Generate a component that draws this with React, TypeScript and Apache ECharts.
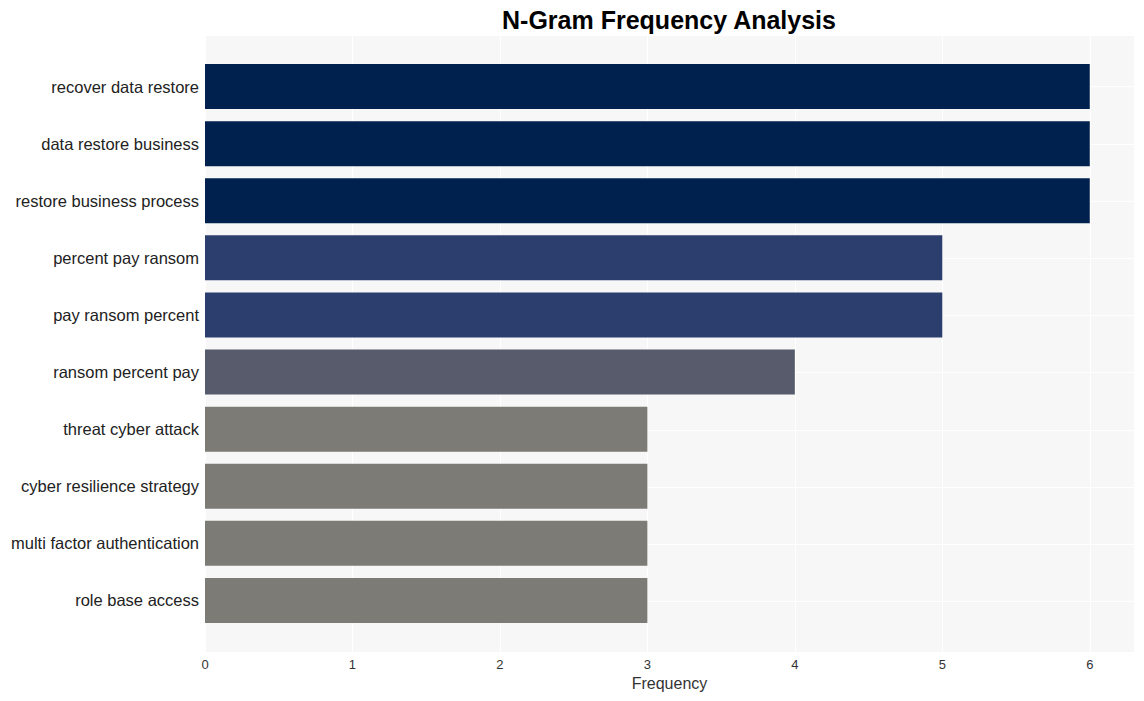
import React, { useEffect, useRef } from "react";
import * as echarts from "echarts";

const categories = [
  "recover data restore",
  "data restore business",
  "restore business process",
  "percent pay ransom",
  "pay ransom percent",
  "ransom percent pay",
  "threat cyber attack",
  "cyber resilience strategy",
  "multi factor authentication",
  "role base access",
];
const values = [6, 6, 6, 5, 5, 4, 3, 3, 3, 3];
const barColors = [
  "#00204E", "#00204E", "#00204E",
  "#2C3E6D", "#2C3E6D",
  "#575B6B",
  "#7C7B76", "#7C7B76", "#7C7B76", "#7C7B76",
];
const xTicks = [0, 1, 2, 3, 4, 5, 6];
const FONT = "Liberation Sans, Arial, sans-serif";

export default function App() {
  const ref = useRef<HTMLDivElement>(null);
  useEffect(() => {
    if (!ref.current) return;
    const chart = echarts.init(ref.current, undefined, { renderer: "svg" });
    const idx = categories.map((_, i) => i);
    chart.setOption({
      animation: false,
      backgroundColor: "#ffffff",
      title: {
        text: "N-Gram Frequency Analysis",
        left: 664,
        textAlign: "center",
        top: 2,
        textStyle: {
          fontFamily: FONT,
          fontWeight: "bold",
          fontSize: 25,
          color: "#000000",
        },
      },
      grid: [
        {
          left: 205,
          right: 10,
          top: 36,
          bottom: 49,
          containLabel: false,
          show: true,
          backgroundColor: "#F7F7F7",
          borderWidth: 0,
        },
        {
          left: 205,
          right: 10,
          top: 58,
          bottom: 72,
          containLabel: false,
          show: false,
        },
      ],
      xAxis: [
        {
          gridIndex: 0,
          type: "value",
          min: 0,
          max: 6.3,
          axisLine: { show: false },
          axisTick: { show: false, customValues: xTicks },
          splitLine: { show: true, lineStyle: { color: "#FFFFFF", width: 1 } },
          axisLabel: {
            customValues: xTicks,
            color: "#333333",
            fontSize: 13,
            fontFamily: FONT,
            margin: 6,
          },
          name: "Frequency",
          nameLocation: "middle",
          nameGap: 23,
          nameTextStyle: {
            color: "#333333",
            fontSize: 16,
            fontFamily: FONT,
          },
        },
        {
          gridIndex: 1,
          type: "value",
          min: 0,
          max: 6.3,
          show: false,
          splitLine: { show: false },
        },
      ],
      yAxis: [
        {
          gridIndex: 0,
          type: "value",
          inverse: true,
          min: -0.884,
          max: 9.884,
          axisLine: { show: false },
          axisTick: { show: false, customValues: idx },
          splitLine: { show: true, lineStyle: { color: "#FFFFFF", width: 1 } },
          axisLabel: { show: false, customValues: idx },
        },
        {
          gridIndex: 1,
          type: "category",
          inverse: true,
          data: categories,
          axisLine: { show: false },
          axisTick: { show: false },
          splitLine: { show: false },
          axisLabel: {
            color: "#222222",
            fontSize: 16.5,
            fontFamily: FONT,
            margin: 6,
          },
        },
      ],
      series: [
        {
          type: "bar",
          xAxisIndex: 1,
          yAxisIndex: 1,
          barWidth: 45,
          data: values.map((v, i) => ({
            value: v,
            itemStyle: { color: barColors[i] },
          })),
        },
      ],
    });
    return () => chart.dispose();
  }, []);
  return (
    <div
      ref={ref}
      style={{ position: "fixed", left: 0, top: 0, width: 1144, height: 701 }}
    />
  );
}
